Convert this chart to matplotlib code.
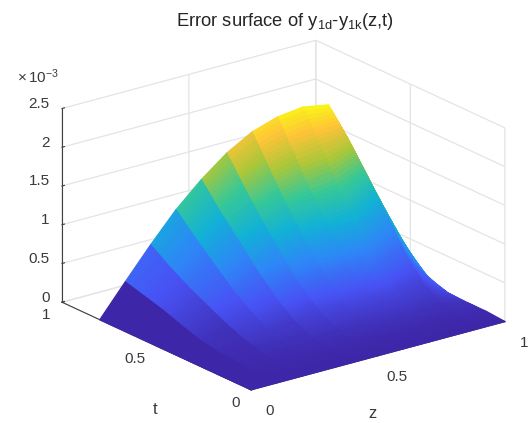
import numpy as np
import matplotlib
matplotlib.use("Agg")
import matplotlib.pyplot as plt
from matplotlib.colors import LinearSegmentedColormap, Normalize

plt.rcParams['font.family'] = ['Liberation Sans', 'DejaVu Sans']
plt.rcParams['mathtext.fontset'] = 'custom'
plt.rcParams['mathtext.rm'] = 'Liberation Sans'
plt.rcParams['mathtext.it'] = 'Liberation Sans'
plt.rcParams['mathtext.default'] = 'regular'

z_vals = [0.0, 0.1, 0.2, 0.3, 0.4, 0.5, 0.6, 0.7, 0.8, 0.9, 1.0]
t_vals = [0.0, 0.1, 0.2, 0.3, 0.4, 0.5, 0.6, 0.7, 0.8]
# error (units of 1e-3) along t for each z
e_z00 = [0, 0, 0, 0, 0, 0, 0, 0, 0]
e_z01 = [0, 0.01, 0.03, 0.05, 0.09, 0.17, 0.26, 0.33, 0.40]
e_z02 = [0, 0.015, 0.05, 0.12, 0.22, 0.345, 0.47, 0.62, 0.79]
e_z03 = [0, 0.015, 0.06, 0.125, 0.28, 0.46, 0.68, 0.91, 1.155]
e_z04 = [0, 0.02, 0.07, 0.17, 0.36, 0.60, 0.88, 1.15, 1.456]
e_z05 = [0, 0.02, 0.08, 0.20, 0.41, 0.68, 1.00, 1.34, 1.71]
e_z06 = [0, 0.02, 0.09, 0.21, 0.43, 0.73, 1.08, 1.48, 1.895]
e_z07 = [0, 0.02, 0.09, 0.21, 0.44, 0.75, 1.12, 1.56, 2.00]
e_z08 = [0, 0.02, 0.08, 0.20, 0.43, 0.76, 1.15, 1.60, 2.04]
e_z09 = [0, 0.03, 0.09, 0.25, 0.55, 0.95, 1.31, 1.675, 1.98]
e_z10 = [0, 0.02, 0.02, 0.03, 0.10, 0.30, 0.60, 0.95, 1.31]
e_rows = [e_z00, e_z01, e_z02, e_z03, e_z04, e_z05, e_z06, e_z07, e_z08, e_z09, e_z10]

x_ticks = [0, 0.5, 1]
y_ticks = [0, 0.5, 1]
z_ticks = [0, 0.5e-3, 1e-3, 1.5e-3, 2e-3, 2.5e-3]
x_ticklabels = ['0', '0.5', '1']
y_ticklabels = ['0', '0.5', '1']
z_ticklabels = ['0', '0.5', '1', '1.5', '2', '2.5']

parula = LinearSegmentedColormap.from_list('parula', [
    (0.2422, 0.1504, 0.6603), (0.2810, 0.3228, 0.9579), (0.1786, 0.5289, 0.9682),
    (0.0689, 0.6948, 0.8394), (0.2161, 0.7843, 0.5923), (0.6720, 0.7793, 0.2227),
    (0.9970, 0.7659, 0.2199), (0.9769, 0.9839, 0.0805)])

W, H = 530, 423
fig = plt.figure(figsize=(W / 100, H / 100), dpi=100, facecolor='white')
S = 477.6
L, B = 38.2, -37.3
ax = fig.add_axes([L / W, B / H, S / W, S / H], projection='3d', proj_type='ortho')
ax.view_init(elev=20.67, azim=-127.3)
ax.set_box_aspect((319, 312, 207))

t_fine = np.linspace(t_vals[0], t_vals[-1], 81)
E = np.array([np.interp(t_fine, t_vals, row) for row in e_rows]).T * 1e-3
X, Y = np.meshgrid(z_vals, t_fine)
norm = Normalize(0, E.max())
ax.plot_surface(X, Y, E, facecolors=parula(norm(E)), rstride=1, cstride=1,
                shade=False, linewidth=0.9, antialiased=True)

ax.set_xlim(0, 1, view_margin=0)
ax.set_ylim(0, 1, view_margin=0)
ax.set_zlim(0, 2.5e-3, view_margin=0)
ax.set_xticks(x_ticks, x_ticklabels)
ax.set_yticks(y_ticks, y_ticklabels)
ax.set_zticks(z_ticks, z_ticklabels)
ax.zaxis.set_ticks_position('upper')

dark = '#404040'
for axis in (ax.xaxis, ax.yaxis, ax.zaxis):
    axis.set_pane_color((1, 1, 1, 1))
    axis.pane.set_edgecolor('none')
    axis.line.set_color(dark)
    axis.line.set_linewidth(0.8)
    axis._axinfo['grid'].update(color='#e4e4e4', linewidth=0.9)
    axis._axinfo['tick'].update(inward_factor=0.0, outward_factor=0.12, linewidth={True: 0.8, False: 0.8})
    axis.set_tick_params(labelsize=11, labelcolor='#3a3a3a', color=dark, pad=0)
ax.tick_params(axis='x', pad=10)
ax.tick_params(axis='z', pad=-3)

for lab in ax.xaxis.get_majorticklabels():
    lab.set_va('bottom')
for lab in ax.yaxis.get_majorticklabels():
    lab.set_ha('right')
    lab.set_va('center_baseline')
for lab in ax.zaxis.get_majorticklabels():
    lab.set_ha('right')
    lab.set_va('baseline')

ax._autotitlepos = False
ax.set_title('Error surface of y$_{1d}$-y$_{1k}$(z,t)', fontsize=13.2, color='#262626')
ax.title.set_position(((285 - L) / S, (389 - B) / S))


def label(px, py, text, size, **kw):
    ax.text2D((px - L) / S, (H - py - B) / S, text, transform=ax.transAxes,
              fontsize=size, color='#3a3a3a', **kw)


label(372, 414, 'z', 12, ha='center', va='center')
label(155, 410, 't', 12, ha='center', va='center')
label(17, 83, r'$\times\,10^{-3}$', 11, ha='left', va='baseline')

fig.savefig('out.png', dpi=100)
